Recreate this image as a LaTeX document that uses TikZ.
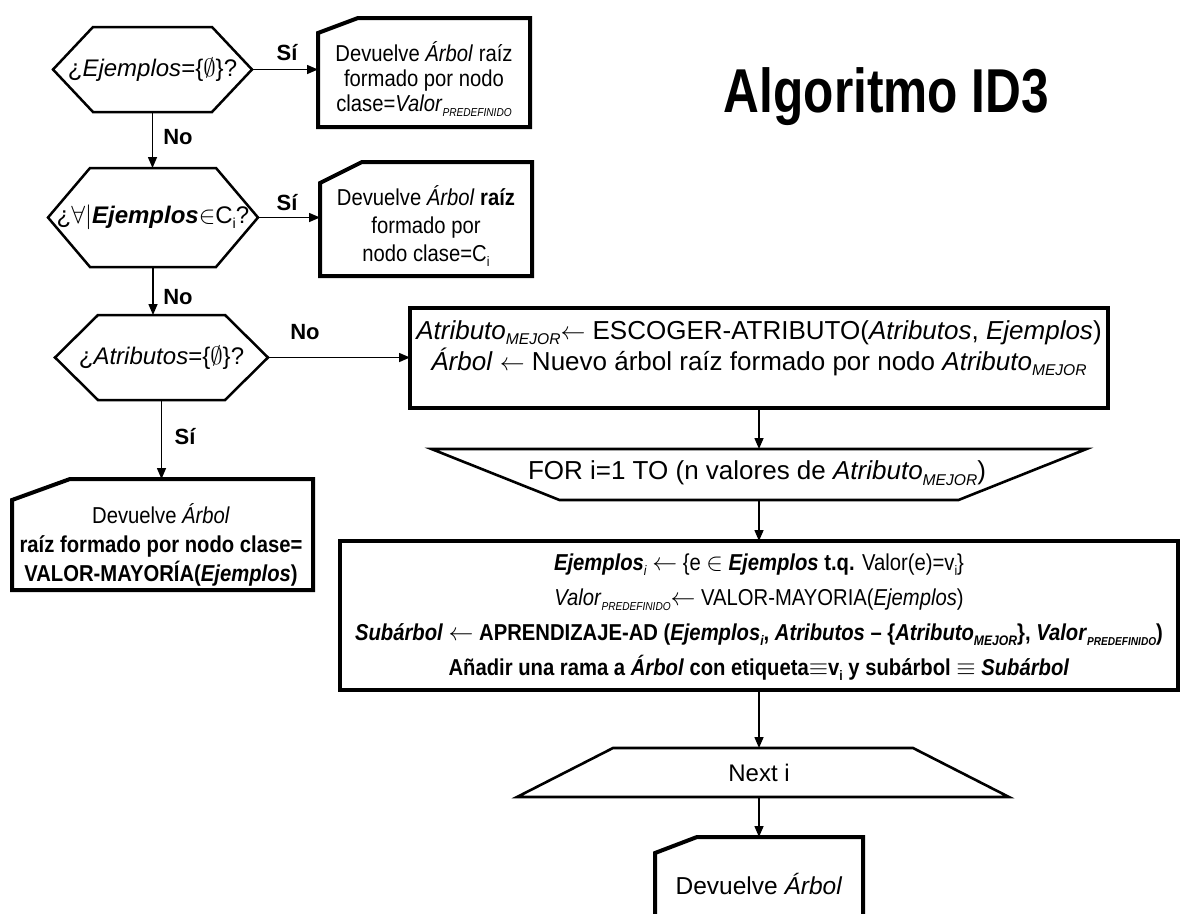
\documentclass[tikz,border=0pt]{standalone}
\usepackage{fontspec}
\usepackage{graphicx}
\setmainfont{Liberation Sans}
\newfontfamily\condfont[FakeStretch=0.88]{Liberation Sans}
\newfontfamily\titlefont[FakeStretch=0.8]{Liberation Sans}
\usetikzlibrary{arrows.meta}

% subscripts: italic and upright
\newcommand\dn[2][0.6]{\raisebox{-0.4ex}{\scalebox{#1}{\itshape #2}}}
\newcommand\dnu[2][0.6]{\raisebox{-0.4ex}{\scalebox{#1}{#2}}}

% outlines drawn around sized (invisible) nodes
\newcommand\hexpath[2]{%
  \draw[hexline] (#1.west) -- ([xshift=#2]#1.north west) -- ([xshift=-#2]#1.north east)
    -- (#1.east) -- ([xshift=-#2]#1.south east) -- ([xshift=#2]#1.south west) -- cycle;}
\newcommand\docpath[3]{%
  \draw[docline] ([yshift=-#3]#1.north west) -- ([xshift=#2]#1.north west) -- (#1.north east)
    -- (#1.south east) -- (#1.south west) -- cycle;}
\newcommand\trappath[3]{%
  \draw[trapline] ([xshift=#2]#1.north west) -- ([xshift=-#2]#1.north east)
    -- ([xshift=-#3]#1.south east) -- ([xshift=#3]#1.south west) -- cycle;}

\tikzset{
  frame/.style={inner sep=0pt, outer sep=0pt},
  hexline/.style={line width=2.5pt, line join=miter},
  docline/.style={line width=4pt, line join=miter},
  trapline/.style={line width=2.6pt, line join=miter},
  boxline/.style={draw, line width=4pt},
  arr/.style={line width=1.5pt, -{Triangle[length=11pt,width=9pt]}},
  lbl/.style={font=\fontsize{22}{24}\selectfont\bfseries, inner sep=0pt},
  dectext/.style={font=\fontsize{24}{28}\selectfont},
  doctext/.style={font=\condfont\fontsize{23}{25}\selectfont, align=center, inner sep=0pt},
  proctext/.style={font=\fontsize{26}{30}\selectfont, inner sep=0pt},
}

\begin{document}
\begin{tikzpicture}[x=1pt, y=-1pt]
\useasboundingbox (0,0) rectangle (1180,913);
\fill[white] (0,0) rectangle (1180,913);

% title
\node[font=\titlefont\fontsize{62}{62}\selectfont\bfseries, anchor=base, inner sep=0pt]
  (title) at (886.5,112) {Algoritmo ID3};

% decisions
\node[frame, dectext, minimum width=199pt, minimum height=85pt] (d1) at (152.5,69.5)
  {¿\textit{Ejemplos}=\{$\emptyset$\}?};
\hexpath{d1}{40pt}
\node[frame, dectext, minimum width=210pt, minimum height=99pt] (d2) at (153,217.5)
  {¿$\forall\big|$\textbf{\textit{Ejemplos}}$\in$C\dnu{i}?};
\hexpath{d2}{42pt}
\node[frame, dectext, minimum width=213pt, minimum height=85pt] (d3) at (161.5,357.5)
  {¿\textit{Atributos}=\{$\emptyset$\}?};
\hexpath{d3}{43pt}

% result documents
\node[frame, minimum width=212pt, minimum height=109pt] (doc1) at (424,72.5) {};
\docpath{doc1}{40pt}{15pt}
\node[doctext] (doc1t) at (424,79)
  {Devuelve \textit{Árbol} raíz\\formado por nodo\\clase=\textit{Valor}\dn[0.5]{PREDEFINIDO}};

\node[frame, minimum width=212pt, minimum height=114pt] (doc2) at (426,219) {};
\docpath{doc2}{42pt}{21pt}
\node[doctext, font=\condfont\fontsize{23}{28}\selectfont] (doc2t) at (426,226)
  {Devuelve \textit{Árbol} \textbf{raíz}\\formado por\\nodo clase=C\dnu{i}};

\node[frame, minimum width=301pt, minimum height=111pt] (doc3) at (162.5,534.5) {};
\docpath{doc3}{58pt}{21pt}
\node[doctext, font=\condfont\fontsize{23}{29}\selectfont] (doc3t) at (161,545)
  {Devuelve \textit{Árbol}\\\textbf{raíz formado por nodo clase=}\\\textbf{VALOR-MAYORÍA(\textit{Ejemplos})}};

% main process: two separate lines
\node[frame, boxline, minimum width=698pt, minimum height=100pt] (r1) at (759,358) {};
\node[proctext, anchor=base] (r1a) at (759,339)
  {\textit{Atributo}\dn{MEJOR}$\leftarrow$ ESCOGER-ATRIBUTO(\textit{Atributos}, \textit{Ejemplos})};
\node[proctext, anchor=base] (r1b) at (759,370)
  {\textit{Árbol} $\leftarrow$ Nuevo árbol raíz formado por nodo \textit{Atributo}\dn{MEJOR}};

\node[frame, minimum width=655pt, minimum height=51pt] (for1) at (759,474.5) {};
\trappath{for1}{0pt}{128pt}
\node[proctext] (for1t) at (757,473)
  {FOR i=1 TO (n valores de \textit{Atributo}\dn{MEJOR})};

\node[frame, boxline, minimum width=838pt, minimum height=149pt] (low) at (759,615.5) {};
\node[font=\condfont\fontsize{23}{35}\selectfont, align=center, inner sep=0pt] (lowt) at (759,617)
  {\textbf{\textit{Ejemplos}}\dn{i} $\leftarrow$ \{e $\in$ \textbf{\textit{Ejemplos}} \textbf{t.q.} Valor(e)=v\dnu{i}\}\\
   \textit{Valor}\dn[0.5]{PREDEFINIDO}$\leftarrow$ VALOR-MAYORIA(\textit{Ejemplos})\\
   \textbf{\textit{Subárbol} $\leftarrow$ APRENDIZAJE-AD (\textit{Ejemplos}\dn{i}, \textit{Atributos} – \{\textit{Atributo}\dn{MEJOR}\}, \textit{Valor}\dn[0.5]{PREDEFINIDO})}\\
   \textbf{Añadir una rama a \textit{Árbol} con etiqueta$\equiv$v\dnu{i} y subárbol $\equiv$ \textit{Subárbol}}};

\node[frame, minimum width=492pt, minimum height=49pt] (next) at (763,772.5) {};
\trappath{next}{96pt}{0pt}
\node[font=\fontsize{24}{28}\selectfont, inner sep=0pt] (nextt) at (759,773) {Next i};

\node[frame, minimum width=208pt, minimum height=98pt] (doc4) at (759,886) {};
\docpath{doc4}{42pt}{16pt}
\node[font=\fontsize{24.5}{28}\selectfont, inner sep=0pt] (doc4t) at (759,884) {Devuelve \textit{Árbol}};

% connectors
\draw[arr] (d1.south) -- (d1.south |- d2.north);
\draw[arr] (d2.south) -- (d2.south |- d3.north);
\draw[arr] (d3.south) -- (d3.south |- doc3.north);
\draw[arr] (d1.east) -- (d1.east -| doc1.west);
\draw[arr] (d2.east) -- (d2.east -| doc2.west);
\draw[arr] (d3.east) -- (d3.east -| r1.west);
\draw[arr] (r1.south) -- (r1.south |- for1.north);
\draw[arr] (for1.south) -- (for1.south |- low.north);
\draw[arr] (low.south) -- (low.south |- next.north);
\draw[arr] (next.south -| doc4.north) -- (doc4.north);

% branch labels
\node[lbl] (s1) at (287,53) {Sí};
\node[lbl] (n1) at (178,137) {No};
\node[lbl] (s2) at (287,203) {Sí};
\node[lbl] (n2) at (178,297) {No};
\node[lbl] (n3) at (305,332) {No};
\node[lbl] (s3) at (185,437) {Sí};
\end{tikzpicture}
\end{document}
